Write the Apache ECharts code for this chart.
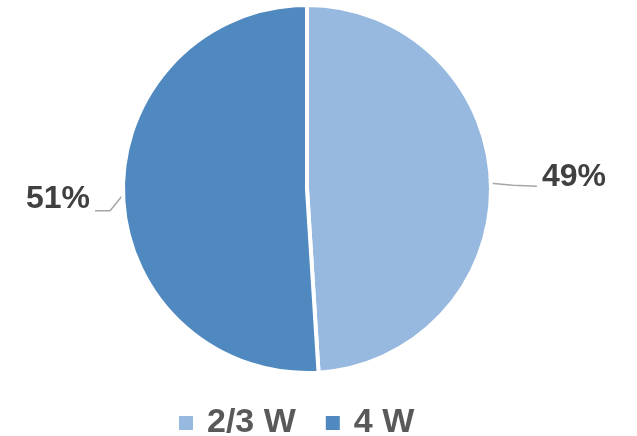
<!DOCTYPE html>
<html>
<head>
<meta charset="utf-8">
<script src="https://cdn.jsdelivr.net/npm/echarts@6/dist/echarts.min.js"></script>
<style>
  html, body { margin: 0; padding: 0; background: #fff; }
  #chart { width: 637px; height: 436px; }
</style>
</head>
<body>
<div id="chart"></div>
<script>
// Share of lamp types, in percent
const categories = ['2/3 W', '4 W'];
const shares = [49, 51];
const colors = ['#97B9E0', '#4F89BF'];

const chart = echarts.init(document.getElementById('chart'), null, { renderer: 'canvas' });

const FONT = '"Liberation Sans", Arial, sans-serif';

// Where each percentage label sits (centre of the text)
const labelSpots = [
  { x: 574, y: 177 },
  { x: 58, y: 199 }
];

chart.setOption({
  animation: false,
  color: colors,
  legend: {
    data: categories,
    left: 172,
    top: 401,
    itemWidth: 16,
    itemHeight: 16,
    itemGap: 28,
    icon: 'rect',
    textStyle: { fontFamily: FONT, fontSize: 34, fontWeight: 'bold', color: '#595959', padding: [0, 0, 0, 8] }
  },
  series: [{
    type: 'pie',
    center: [307, 189],
    radius: [0, 184],
    startAngle: 90,
    clockwise: true,
    avoidLabelOverlap: false,
    itemStyle: { borderColor: '#fff', borderWidth: 4 },
    label: {
      show: true,
      position: 'outside',
      formatter: p => p.value + '%',
      fontFamily: FONT,
      fontSize: 32,
      fontWeight: 'bold',
      color: '#404040'
    },
    labelLine: {
      show: true,
      length: 15,
      length2: 30,
      lineStyle: { color: '#A6A6A6', width: 1.5 }
    },
    labelLayout: params => {
      const spot = labelSpots[params.dataIndex];
      const out = { x: spot.x, y: spot.y, align: 'center', verticalAlign: 'middle' };
      const pts = params.labelLinePoints;
      if (pts && pts.length) {
        const a = pts[0];
        if (params.dataIndex === 0) {
          // nearly flat leader running right to the label
          out.labelLinePoints = [a, [a[0] + 22, a[1] + 2], [a[0] + 46, a[1] + 3]];
        } else {
          // short diagonal drop, then a flat run left to the label
          out.labelLinePoints = [a, [a[0] - 13, a[1] + 16], [a[0] - 28, a[1] + 16]];
        }
      }
      return out;
    },
    data: categories.map((name, i) => ({ name, value: shares[i] }))
  }]
});
</script>
</body>
</html>
